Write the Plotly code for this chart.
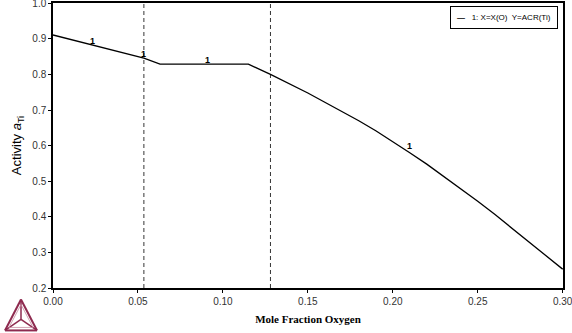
import plotly.graph_objects as go

# Data
x_o = [0.000, 0.027, 0.0535, 0.063, 0.115, 0.128, 0.140, 0.150, 0.160, 0.170,
       0.180, 0.190, 0.200, 0.210, 0.220, 0.230, 0.240, 0.250, 0.260, 0.270,
       0.280, 0.290, 0.300]
acr_ti = [0.911, 0.879, 0.846, 0.829, 0.829, 0.800, 0.772, 0.748, 0.722, 0.697,
          0.670, 0.642, 0.612, 0.580, 0.548, 0.514, 0.480, 0.444, 0.407, 0.369,
          0.331, 0.292, 0.253]
phase_boundaries = [0.0535, 0.128]
label_x = [0.023, 0.053, 0.091, 0.21]
label_y = [0.895, 0.857, 0.842, 0.598]
x_ticks = [0.00, 0.05, 0.10, 0.15, 0.20, 0.25, 0.30]
x_ticklabels = ["0.00", "0.05", "0.10", "0.15", "0.20", "0.25", "0.30"]
y_ticks = [0.2, 0.3, 0.4, 0.5, 0.6, 0.7, 0.8, 0.9, 1.0]
y_ticklabels = ["0.2", "0.3", "0.4", "0.5", "0.6", "0.7", "0.8", "0.9", "1.0"]
legend_text = "1: X=X(O)  Y=ACR(Ti)"

fig = go.Figure()
fig.add_trace(go.Scatter(x=x_o, y=acr_ti, mode="lines",
                         line=dict(color="black", width=1.3),
                         showlegend=False, hoverinfo="skip"))

for xb in phase_boundaries:
    fig.add_shape(type="line", xref="x", yref="paper", x0=xb, x1=xb, y0=0, y1=1,
                  line=dict(color="black", width=0.8, dash="4px,3px"))

for lx, ly in zip(label_x, label_y):
    fig.add_annotation(x=lx, y=ly, xref="x", yref="y", text="<b>1</b>",
                       showarrow=False, font=dict(family="Liberation Sans", size=9, color="black"))

# legend box
fig.add_annotation(xref="paper", yref="paper", x=0.99, y=0.99, xanchor="right", yanchor="top",
                   text="<b>—</b>   " + legend_text, showarrow=False,
                   font=dict(family="Liberation Sans", size=8, color="black"),
                   bordercolor="black", borderwidth=1, borderpad=6, bgcolor="white")

# Thermo-Calc style logo (paper coordinates outside plot area)
W, H = 510.0, 285.5
def px(xp): return (xp - 53) / W
def py(yp): return (288.5 - yp) / H
tri = [(21, 300), (5, 331), (37, 331)]
cx, cy = 21, 320
logo_col = "#8e2a4f"
for i in range(3):
    a, b = tri[i], tri[(i + 1) % 3]
    fig.add_shape(type="line", xref="paper", yref="paper", x0=px(a[0]), y0=py(a[1]),
                  x1=px(b[0]), y1=py(b[1]), line=dict(color=logo_col, width=2))
    fig.add_shape(type="line", xref="paper", yref="paper", x0=px(a[0]), y0=py(a[1]),
                  x1=px(cx), y1=py(cy), line=dict(color=logo_col, width=1.5))
inner = [(21, 305), (9, 328), (33, 328)]
for i in range(3):
    a, b = inner[i], inner[(i + 1) % 3]
    fig.add_shape(type="line", xref="paper", yref="paper", x0=px(a[0]), y0=py(a[1]),
                  x1=px(b[0]), y1=py(b[1]), line=dict(color="#c58aa0", width=0.8))

fig.update_layout(
    width=572, height=333,
    margin=dict(l=53, r=9, t=3, b=44.5),
    paper_bgcolor="white", plot_bgcolor="white",
    showlegend=False,
    xaxis=dict(range=[0, 0.3002], tickvals=x_ticks, ticktext=x_ticklabels,
               automargin=False, ticklabeloverflow="allow",
               showgrid=False, zeroline=False, showline=True, mirror=True,
               linecolor="black", linewidth=1.5, ticks="outside", ticklen=3,
               tickcolor="black",
               tickfont=dict(family="Liberation Sans", size=10, color="#333333"),
               title=dict(text="<b>Mole Fraction Oxygen</b>", standoff=10,
                          font=dict(family="Liberation Serif", size=11, color="black"))),
    yaxis=dict(range=[0.2, 1.0008], tickvals=y_ticks, ticktext=y_ticklabels,
               automargin=False, ticklabeloverflow="allow",
               showgrid=False, zeroline=False, showline=True, mirror=True,
               linecolor="black", linewidth=1.5, ticks="outside", ticklen=3,
               tickcolor="black",
               tickfont=dict(family="Liberation Sans", size=10, color="#333333"),
               title=dict(text="Activity <i>a</i><sub>Ti</sub>", standoff=8,
                          font=dict(family="Liberation Sans", size=13, color="black"))),
)

fig.write_html("out.html", config={"displayModeBar": False},
               post_script="document.body.style.margin='0';document.body.style.overflow='hidden';")
